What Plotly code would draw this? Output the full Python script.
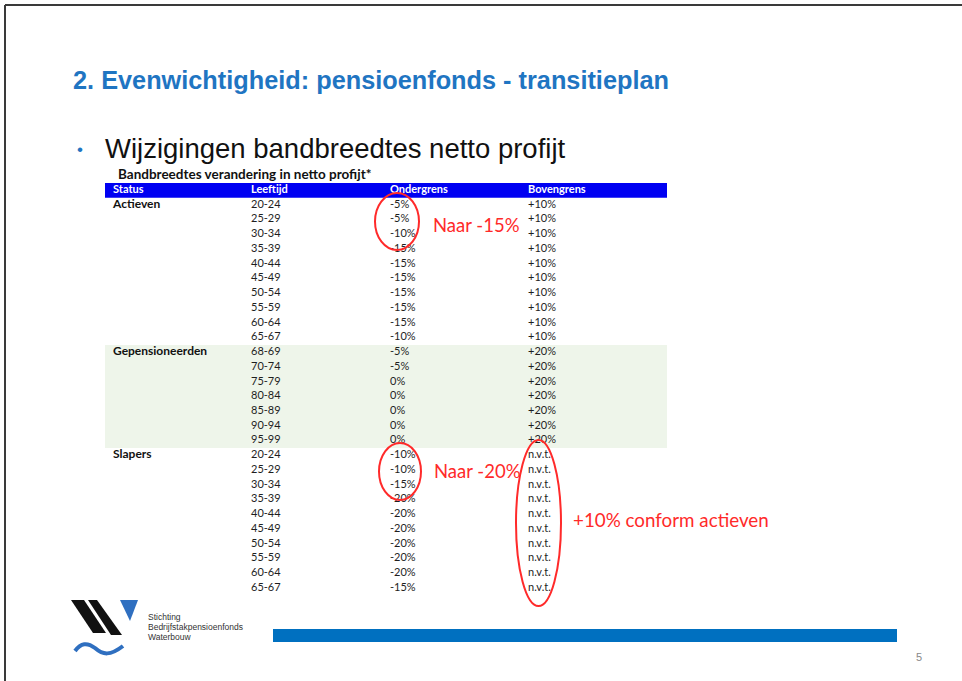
import plotly.graph_objects as go

# slide texts
title = "2. Evenwichtigheid: pensioenfonds - transitieplan"
bullet_text = "Wijzigingen bandbreedtes netto profijt"
table_caption = "Bandbreedtes verandering in netto profijt*"
header = ["Status", "Leeftijd", "Ondergrens", "Bovengrens"]

# table data
status_groups = ["Actieven", "Gepensioneerden", "Slapers"]
leeftijd_actieven = ["20-24", "25-29", "30-34", "35-39", "40-44", "45-49", "50-54", "55-59", "60-64", "65-67"]
onder_actieven = ["-5%", "-5%", "-10%", "-15%", "-15%", "-15%", "-15%", "-15%", "-15%", "-10%"]
boven_actieven = ["+10%", "+10%", "+10%", "+10%", "+10%", "+10%", "+10%", "+10%", "+10%", "+10%"]

leeftijd_gepens = ["68-69", "70-74", "75-79", "80-84", "85-89", "90-94", "95-99"]
onder_gepens = ["-5%", "-5%", "0%", "0%", "0%", "0%", "0%"]
boven_gepens = ["+20%", "+20%", "+20%", "+20%", "+20%", "+20%", "+20%"]

leeftijd_slapers = ["20-24", "25-29", "30-34", "35-39", "40-44", "45-49", "50-54", "55-59", "60-64", "65-67"]
onder_slapers = ["-10%", "-10%", "-15%", "-20%", "-20%", "-20%", "-20%", "-20%", "-20%", "-15%"]
boven_slapers = ["n.v.t.", "n.v.t.", "n.v.t.", "n.v.t.", "n.v.t.", "n.v.t.", "n.v.t.", "n.v.t.", "n.v.t.", "n.v.t."]

notes = ["Naar -15%", "Naar -20%", "+10% conform actieven"]
logo_lines = ["Stichting", "Bedrijfstakpensioenfonds", "Waterbouw"]
page_number = "5"

W, H = 962, 681
ROW_Y0, ROW_H = 205, 14.73          # pixel centre of first row, row pitch
COL_X = [113, 251, 390, 528]        # left edge of each column
TBL_X0, TBL_X1 = 105, 667
FONT = "Lato"
BLUE = "#1f75c2"
RED = "#ff2a2a"

groups = [
    (leeftijd_actieven, onder_actieven, boven_actieven),
    (leeftijd_gepens, onder_gepens, boven_gepens),
    (leeftijd_slapers, onder_slapers, boven_slapers),
]
leeftijd = [a for g in groups for a in g[0]]
onder = [a for g in groups for a in g[1]]
boven = [a for g in groups for a in g[2]]
rows = list(range(len(leeftijd)))
group_start = [0, len(leeftijd_actieven), len(leeftijd_actieven) + len(leeftijd_gepens)]

fig = go.Figure()

cell_font = dict(family=FONT, size=11, color="#1e1e1e")
for col, vals in zip(COL_X[1:], [leeftijd, onder, boven]):
    fig.add_trace(go.Scatter(x=[col] * len(vals), y=rows, text=vals, mode="text",
                             textposition="middle right", textfont=cell_font,
                             yaxis="y2", hoverinfo="skip"))

fig.add_trace(go.Scatter(x=[COL_X[0]] * 3, y=group_start, text=status_groups, mode="text",
                         textposition="middle right",
                         textfont=dict(family=FONT, size=12, color="#111111", weight="bold"),
                         yaxis="y2", hoverinfo="skip"))

fig.add_trace(go.Scatter(x=COL_X, y=[-1] * 4, text=header, mode="text",
                         textposition="middle right",
                         textfont=dict(family=FONT, size=11, color="white", weight="bold"),
                         yaxis="y2", hoverinfo="skip"))

fig.add_trace(go.Scatter(x=[118], y=[-1.98], text=[table_caption], mode="text",
                         textposition="middle right",
                         textfont=dict(family=FONT, size=13.5, color="#111111", weight="bold"),
                         yaxis="y2", hoverinfo="skip"))

shapes = [
    # slide frame
    dict(type="line", xref="x", yref="y", x0=5, x1=W, y0=5, y1=5, line=dict(color="#3a3a3a", width=2)),
    dict(type="line", xref="x", yref="y", x0=5, x1=5, y0=5, y1=H, line=dict(color="#3a3a3a", width=2)),
    # table header band and green group band
    dict(type="rect", xref="x", yref="y2", x0=TBL_X0, x1=TBL_X1, y0=-1.5, y1=-0.5,
         fillcolor="#0000f2", line_width=0, layer="below"),
    dict(type="rect", xref="x", yref="y2", x0=TBL_X0, x1=TBL_X1,
         y0=group_start[1] - 0.5, y1=group_start[2] - 0.5,
         fillcolor="#eef5ea", line_width=0, layer="below"),
    # red ellipses
    dict(type="circle", xref="x", yref="y", x0=375, x1=419, y0=193, y1=250, line=dict(color=RED, width=2)),
    dict(type="circle", xref="x", yref="y", x0=379, x1=421, y0=443, y1=500, line=dict(color=RED, width=2)),
    dict(type="circle", xref="x", yref="y", x0=516, x1=561, y0=440, y1=606, line=dict(color=RED, width=2)),
    # bottom bar
    dict(type="rect", xref="x", yref="y", x0=273, x1=897, y0=629, y1=642, fillcolor="#0070c0", line_width=0),
    # logo
    dict(type="path", xref="x", yref="y", path="M 71 600 L 84 600 L 106 633 L 93 633 Z",
         fillcolor="#111111", line_width=0),
    dict(type="path", xref="x", yref="y", path="M 88 600 L 97 600 L 122 635 L 111 635 Z",
         fillcolor="#111111", line_width=0),
    dict(type="path", xref="x", yref="y", path="M 120 600 L 138 600 L 130 621 Z",
         fillcolor="#2f6fc0", line_width=0),
    dict(type="path", xref="x", yref="y",
         path="M 75 651 C 81 643, 87 642, 95 648 C 103 655, 110 656, 123 646",
         line=dict(color="#2f6fc0", width=4)),
]

annotations = [
    dict(x=71, y=80, text=title, font=dict(family="Liberation Sans", size=25.3, color=BLUE, weight="bold")),
    dict(x=75, y=149, text="\u2022", font=dict(family="Liberation Sans", size=17, color=BLUE)),
    dict(x=103, y=148, text=bullet_text, font=dict(family="Liberation Sans", size=27.5, color="#111111")),
    dict(x=431, y=225, text=notes[0], font=dict(family=FONT, size=18.5, color=RED)),
    dict(x=432, y=471, text=notes[1], font=dict(family=FONT, size=18.5, color=RED)),
    dict(x=571, y=519, text=notes[2], font=dict(family=FONT, size=18.8, color=RED)),
    dict(x=914, y=657, text=page_number, font=dict(family="Liberation Sans", size=11, color="#888888")),
]
for i, line in enumerate(logo_lines):
    annotations.append(dict(x=146, y=617 + i * 10, text=line,
                            font=dict(family="Liberation Sans", size=8.5, color="#333333")))
for a in annotations:
    a.update(xref="x", yref="y", xanchor="left", yanchor="middle", showarrow=False)

fig.update_layout(
    width=W, height=H,
    margin=dict(l=0, r=0, t=0, b=0),
    paper_bgcolor="white", plot_bgcolor="white",
    showlegend=False,
    xaxis=dict(range=[0, W], visible=False, fixedrange=True),
    yaxis=dict(range=[H, 0], visible=False, fixedrange=True),
    yaxis2=dict(range=[(H - ROW_Y0) / ROW_H, -ROW_Y0 / ROW_H], overlaying="y",
                visible=False, fixedrange=True),
    shapes=shapes,
    annotations=annotations,
)

fig.write_html("out.html", config={"displayModeBar": False},
               post_script="document.body.style.margin='0';document.body.style.overflow='hidden';")
